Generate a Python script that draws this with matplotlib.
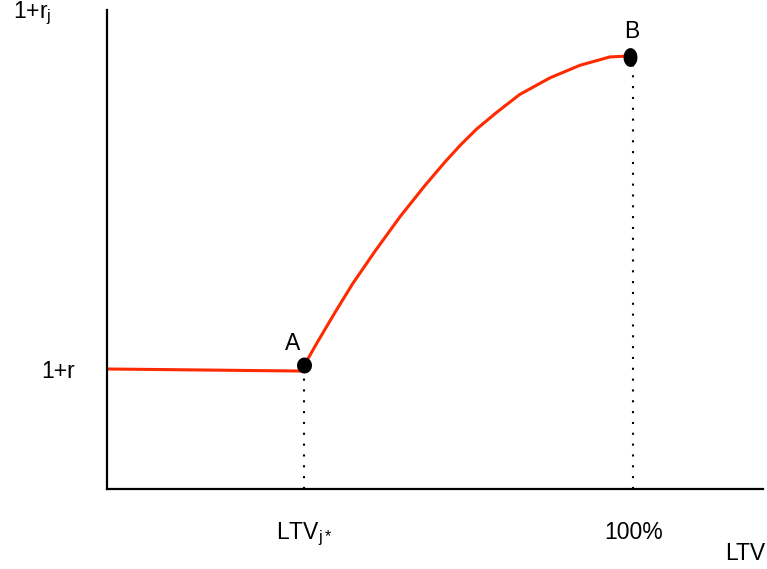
import numpy as np
import matplotlib
matplotlib.use("Agg")
import matplotlib.pyplot as plt
from matplotlib.path import Path

plt.rcParams['font.family'] = ['Liberation Sans', 'DejaVu Sans']
plt.rcParams['mathtext.fontset'] = 'custom'
plt.rcParams['mathtext.rm'] = 'Liberation Sans'

# flat segment (risk-free rate) and rising segment A -> B
flat_ltv = [3.75, 40.0]
flat_rate = [1.0, 0.998]
curve_ltv = [40.0, 42.4, 45.7, 49.0, 53.1, 57.7, 62.3, 65.9, 68.7, 71.8,
             75.5, 79.7, 85.3, 90.8, 96.3, 100.0]
curve_rate = [1.003, 1.025, 1.054, 1.082, 1.113, 1.146, 1.176, 1.198, 1.214, 1.230,
              1.246, 1.263, 1.279, 1.291, 1.299, 1.300]

point_names = ['A', 'B']
point_ltv = [40.0, 100.0]
point_rate = [1.004, 1.299]

xtick_pos = [40, 100.6]
xtick_labels = [r'LTV$_\mathregular{j*}$', '100%']
ytick_pos = [1.0]
ytick_labels = ['1+r']

red = '#ff2a00'
fs = 16.5

fig = plt.figure(figsize=(7.67, 5.69), dpi=100)
# axes box: x 107..763 px, y 10..489 px
ax = fig.add_axes([107 / 767, 1 - 489 / 569, 656 / 767, 479 / 569])
ax.set_xlim(3.75, 124.5)
ax.set_ylim(0.885, 1.344)

for s in ['top', 'right']:
    ax.spines[s].set_visible(False)
for s in ['left', 'bottom']:
    ax.spines[s].set_linewidth(1.6)
    ax.spines[s].set_color('black')

ax.plot(flat_ltv, flat_rate, color=red, lw=2.2, solid_capstyle='butt', zorder=2)
ax.plot(curve_ltv, curve_rate, color=red, lw=2.2, solid_joinstyle='round', zorder=2)

# dotted drop lines
drop_x = [40.0, 100.6]
for x, y in zip(drop_x, point_rate):
    ax.plot([x, x], [0.885, y], color='black', lw=1.5,
            linestyle=(0, (1, 4.2)), zorder=1)

# slightly oval points
t = np.linspace(0, 2 * np.pi, 60)
ell_A = Path(np.column_stack([0.93 * np.cos(t), np.sin(t)]))
ell_B = Path(np.column_stack([0.72 * np.cos(t), np.sin(t)]))
ax.plot([point_ltv[0]], [point_rate[0]], marker=ell_A, ms=10.5, color='black',
        linestyle='none', zorder=3)
ax.plot([point_ltv[1]], [point_rate[1]], marker=ell_B, ms=12.5, color='black',
        linestyle='none', zorder=3)

offsets = [(-8, 15), (1, 18)]
for name, x, y, off in zip(point_names, point_ltv, point_rate, offsets):
    ax.annotate(name, (x, y), xytext=off, textcoords='offset points',
                ha='center', va='center', fontsize=fs)

ax.set_xticks(xtick_pos)
ax.set_xticklabels(xtick_labels, fontsize=fs)
ax.set_yticks(ytick_pos)
ax.set_yticklabels(ytick_labels, fontsize=fs)
ax.tick_params(axis='x', length=0, pad=23)
ax.tick_params(axis='y', length=0, pad=23)

fig.text(13 / 767, 1 - 18 / 569, r'1+r$_\mathregular{j}$', fontsize=fs,
         ha='left', va='baseline')
fig.text(745 / 767, 1 - 553 / 569, 'LTV', fontsize=fs, ha='center', va='center')

fig.savefig('out.png', dpi=100)
